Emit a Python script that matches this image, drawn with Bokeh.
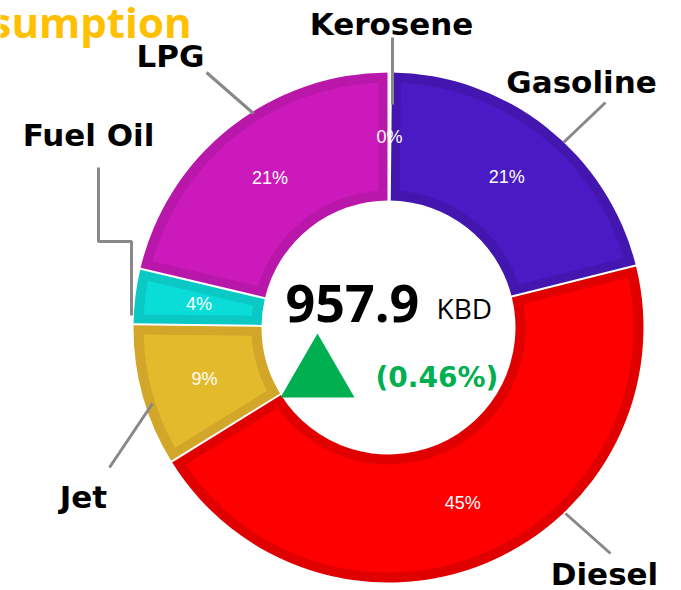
import numpy as np
from bokeh.plotting import figure
from bokeh.models import ColumnDataSource, Range1d
from bokeh.core.properties import value
from bokeh.embed import file_html
from bokeh.resources import INLINE

# ---------------- data ----------------
categories = ["Kerosene", "Gasoline", "Diesel", "Jet", "Fuel Oil", "LPG"]
volumes_kbd = [1.5, 200.5, 432.0, 86.3, 33.6, 204.0]
total_kbd = 957.9
change_pct = 0.46
unit = "KBD"
title_text = "Consumption"

fill_colors = ["#F4F4F4", "#4A1BC5", "#FF0000", "#E2BA2C", "#0ADCD8", "#CB19BB"]
edge_colors = ["#E8E8E8", "#4317AF", "#E00000", "#D2A628", "#0AC8C4", "#B817AA"]

# ---------------- layout ----------------
W, H = 681, 590
X0, X1 = -388, 293
Y0, Y1 = -263, 327
R_OUT, R_IN = 255, 127
BAND = 10
LABEL_R = 191

# label anchor points (one per category) and leader paths
label_pos = {
    "Kerosene": (3, 304),
    "Gasoline": (193, 246),
    "Diesel": (216, -246),
    "Jet": (-305, -169),
    "Fuel Oil": (-300, 193),
    "LPG": (-218, 272),
}
leader_paths = {
    "Kerosene": [(4, 290), (4, 223)],
    "Gasoline": [(217, 225), (175, 185)],
    "Diesel": [(177, -186), (222, -226)],
    "Jet": [(-236, -76), (-279, -140)],
    "Fuel Oil": [(-290, 160), (-290, 86), (-257, 86), (-257, 12)],
    "LPG": [(-182, 255), (-135, 214)],
}

p = figure(width=W, height=H, x_range=Range1d(X0, X1), y_range=Range1d(Y0, Y1),
           output_backend="svg", toolbar_location=None, min_border=0,
           x_axis_type=None, y_axis_type=None)
p.outline_line_color = None
p.grid.visible = False
p.background_fill_color = "white"
p.border_fill_color = "white"

vals = np.array(volumes_kbd, dtype=float)
frac = vals / vals.sum()
cum = np.concatenate([[0.0], np.cumsum(frac)])
start_deg = cum[:-1] * 360.0
end_deg = cum[1:] * 360.0

# outer (darker) wedges
src = ColumnDataSource(dict(
    start=np.pi / 2 - np.radians(start_deg),
    end=np.pi / 2 - np.radians(end_deg),
    color=edge_colors,
))
p.annular_wedge(x=0, y=0, inner_radius=R_IN, outer_radius=R_OUT,
                start_angle="start", end_angle="end", direction="clock",
                fill_color="color", line_color=None, source=src)

# inner (brighter) inset panels
r2 = R_OUT - BAND
r1 = R_IN + BAND
d2 = np.degrees(np.arcsin(BAND / r2))
d1 = np.degrees(np.arcsin(BAND / r1))
pxs, pys, pcol = [], [], []
for a0, a1, c in zip(start_deg, end_deg, fill_colors):
    if a1 - a0 <= 2 * d1:
        continue
    outer = np.radians(np.linspace(a0 + d2, a1 - d2, 80))
    inner = np.radians(np.linspace(a1 - d1, a0 + d1, 50))
    pxs.append(np.concatenate([r2 * np.sin(outer), r1 * np.sin(inner)]))
    pys.append(np.concatenate([r2 * np.cos(outer), r1 * np.cos(inner)]))
    pcol.append(c)
p.patches(xs=pxs, ys=pys, fill_color=pcol, line_color=None)

# white separators
b = np.radians(start_deg)
p.segment(x0=(R_IN - 1) * np.sin(b), y0=(R_IN - 1) * np.cos(b),
          x1=(R_OUT + 1) * np.sin(b), y1=(R_OUT + 1) * np.cos(b),
          line_color="white", line_width=2)

# percent labels
mid = np.radians((start_deg + end_deg) / 2)
pct_text = [f"{round(f * 100):.0f}%" for f in frac]
p.text(x=LABEL_R * np.sin(mid), y=LABEL_R * np.cos(mid), text=pct_text,
       text_color="white", text_font=value("Liberation Sans"), text_font_size="18px",
       text_align="center", text_baseline="middle")

# leader lines
p.multi_line(xs=[[pt[0] for pt in leader_paths[c]] for c in categories],
             ys=[[pt[1] for pt in leader_paths[c]] for c in categories],
             line_color="#888888", line_width=3)

# category labels
p.text(x=[label_pos[c][0] for c in categories], y=[label_pos[c][1] for c in categories],
       text=categories, text_color="black", text_font=value("DejaVu Sans"),
       text_font_style="bold", text_font_size="31px",
       text_align="center", text_baseline="alphabetic")

# centre figures
p.text(x=[-103], y=[24], text=[f"{total_kbd:.1f}"], text_color="black",
       text_font=value("Open Sans"), text_font_style="bold", text_font_size="52px",
       text_align="left", text_baseline="alphabetic")
p.text(x=[48], y=[20], text=[unit], text_color="black",
       text_font=value("Open Sans"), text_font_size="28px",
       text_align="left", text_baseline="alphabetic")

green = "#00B050"
tri_cx, tri_base, tri_half, tri_h = -71, -70, 37, 64
direction = 1 if change_pct >= 0 else -1
if direction > 0:
    p.patch(x=[tri_cx - tri_half, tri_cx + tri_half, tri_cx],
            y=[tri_base, tri_base, tri_base + tri_h], fill_color=green, line_color=None)
else:
    p.patch(x=[tri_cx - tri_half, tri_cx + tri_half, tri_cx],
            y=[tri_base + tri_h, tri_base + tri_h, tri_base], fill_color="#E00000", line_color=None)
p.text(x=[-13], y=[-50], text=[f"({change_pct:.2f}%)"], text_color=green,
       text_font=value("DejaVu Sans"), text_font_style="bold", text_font_size="28px",
       text_align="left", text_baseline="alphabetic")

# clipped title
p.text(x=[-197], y=[306], text=[title_text], text_color="#FFC000",
       text_font=value("Open Sans"), text_font_style="bold", text_font_size="42px",
       text_align="right", text_baseline="alphabetic")

open("out.html", "w").write(file_html(p, INLINE))
